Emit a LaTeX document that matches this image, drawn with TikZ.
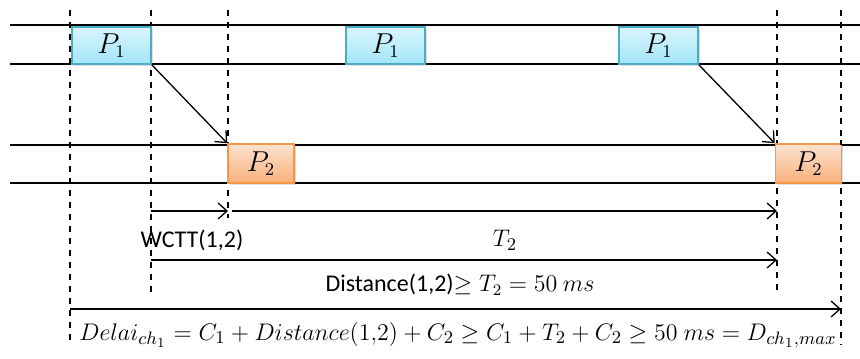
\documentclass[tikz,border=0pt]{standalone}
\usepackage{amsmath, amssymb}
\usepackage{fontspec}
\setmainfont{Carlito}
\usepackage{tikz}
\usetikzlibrary{calc, positioning, arrows.meta, shadows}

\definecolor{bleuBord}{HTML}{4BACC6}
\definecolor{bleuHaut}{HTML}{DAF5FD}
\definecolor{bleuBas}{HTML}{A2E5F8}
\definecolor{orangeBord}{HTML}{F79646}
\definecolor{orangeHaut}{HTML}{FDE3D1}
\definecolor{orangeBas}{HTML}{F8B07A}

\tikzset{
  tache1/.style={draw=bleuBord, thick, top color=bleuHaut, bottom color=bleuBas,
    minimum width=39.5pt, minimum height=18.5pt, inner sep=0pt,
    font=\fontsize{13.5}{15}\selectfont,
    drop shadow={shadow xshift=0.8pt, shadow yshift=-0.8pt, opacity=0.25}},
  tache2/.style={draw=orangeBord, thick, top color=orangeHaut, bottom color=orangeBas,
    minimum width=33pt, minimum height=19.5pt, inner sep=0pt,
    font=\fontsize{13.5}{15}\selectfont,
    drop shadow={shadow xshift=0.8pt, shadow yshift=-0.8pt, opacity=0.25}},
  repere/.style={dashed, line width=0.6pt},
  ligne/.style={line width=0.65pt},
  fleche/.style={-{Straight Barb[length=4.5pt, width=8pt]}, line width=0.65pt}
}

\begin{document}
\begin{tikzpicture}[x=0.5pt, y=-0.5pt, font=\fontsize{12}{14}\selectfont]
    \useasboundingbox (0,0) rectangle (860,358);

    % Lignes des deux noeuds
    \foreach \y in {25,64,145,183} {
        \draw[ligne] (10,\y) -- (860,\y);
    }

    % Reperes verticaux
    \draw[repere] (70,10) -- (70,345);
    \draw[repere] (151,10) -- (151,295);
    \draw[repere] (228,10) -- (228,218);
    \draw[repere] (777,140) -- (777,295);
    \draw[repere] (841,140) -- (841,345);

    % Taches
    \node[tache1] (p1a) at (111.5,45.5) {$P_1$};
    \node[tache1] (p1b) at (385.5,45.5) {$P_1$};
    \node[tache1] (p1c) at (658.5,45.5) {$P_1$};
    \node[tache2] (p2a) at (261,163.5) {$P_2$};
    \node[tache2] (p2b) at (808.5,163.5) {$P_2$};

    \draw[repere] (777,10) -- (777,140);
    \draw[repere] (841,10) -- (841,145);

    % Transmissions
    \draw[fleche] (p1a.south east) -- (p2a.north west);
    \draw[fleche] (p1c.south east) -- (p2b.north west);

    % Durees
    \coordinate (w1) at (151,211);
    \coordinate (w2) at (228,211);
    \coordinate (t1) at (232,211);
    \coordinate (t2) at (777,211);
    \coordinate (d1) at (151,260);
    \coordinate (d2) at (777,260);
    \coordinate (e1) at (70,309);
    \coordinate (e2) at (841,309);

    \draw[fleche] (w1) -- (w2);
    \draw[fleche] (t1) -- (t2);
    \draw[fleche] (d1) -- (d2);
    \draw[fleche] (e1) -- (e2);

    \node (wctt) at (192,240) {WCTT(1,2)};
    \node[font=\fontsize{13}{15}\selectfont] (per) at (505,240) {$T_2$};
    \node (dist) at (460,285) {Distance(1,2)$\geq T_2 = 50\ ms$};
    \node[font=\fontsize{13.2}{15}\selectfont] (delai) at (458,335) {$Delai_{ch_1} = C_1 + Distance(1{,}2) + C_2 \geq C_1 + T_2 + C_2 \geq 50\ ms = D_{ch_1,max}$};
\end{tikzpicture}
\end{document}
